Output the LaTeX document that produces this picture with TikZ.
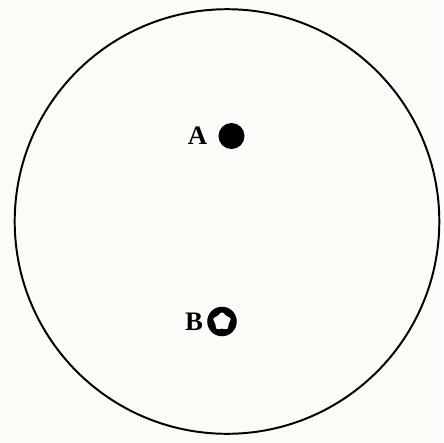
\documentclass[tikz,border=0pt]{standalone}
\usepackage{fontspec}
\setmainfont{Liberation Serif}
\usetikzlibrary{shapes.geometric,positioning}
\definecolor{paper}{RGB}{252,251,247}
\tikzset{
    field/.style     = {draw, line width=1.4pt},
    site label/.style = {font=\fontsize{19}{21}\selectfont\bfseries,
                         inner sep=0pt},
    full site/.style = {circle, fill, inner sep=0pt, minimum size=18.5},
    open site/.style = {circle, fill, inner sep=0pt, minimum size=21},
    site hole/.style = {star, star points=5, star point ratio=1.5,
                        fill=paper, inner sep=0pt, minimum size=14.5,
                        rounded corners=1.8pt}
}

\begin{document}
\begin{tikzpicture}[x=0.025cm, y=-0.025cm]
\fill[paper] (0,0) rectangle (443,443);
\useasboundingbox (0,0) rectangle (443,443);

% Field of view.
\draw[field] (227,221.5) circle (212.3);

% Site A: a filled spot.
\node[full site] (a) at (231.5,136) {};
\node[site label, left=34 of a.center, anchor=center] (alabel) {A};

% Site B: an open ring with a star-shaped hole.
\node[open site] (b) at (222,321.5) {};
\node[site hole] (bhole) at (b.center) {};
\node[site label, left=28 of b.center, anchor=center] (blabel) {B};

\end{tikzpicture}
\end{document}
